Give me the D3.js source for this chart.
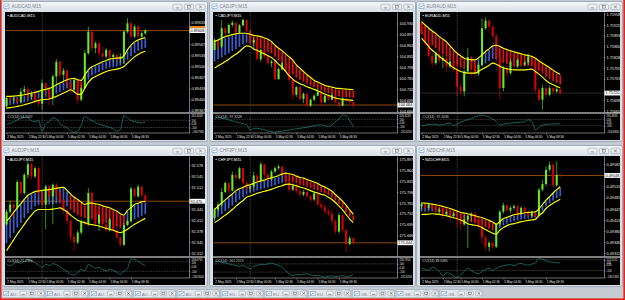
<!DOCTYPE html>
<html>
<head>
<meta charset="utf-8">
<script src="https://cdn.jsdelivr.net/npm/d3@7"></script>
<style>
  body { margin: 0; background: #c5cbd2; }
  svg { display: block; }
  text { font-family: "Liberation Sans", "DejaVu Sans", sans-serif; }
</style>
</head>
<body>
<div id="chart"></div>
<script>
// ---- shared labels ----
const symbols = ["AUDCAD,M15", "CADJPY,M15", "EURAUD,M15", "AUDJPY,M15", "CHFJPY,M15", "NZDCHF,M15"];
const timeLabels = ["2 May 2025", "2 May 22:30", "5 May 00:30", "5 May 02:30", "5 May 04:30", "5 May 06:30", "5 May 08:30"];
const timeIdx = [0, 6, 11, 17, 23, 29, 35];
const sessionBreak = 10; // first bar of Monday 5 May
const minimized = ["AU...", "AU...", "AU...", "AU...", "AU...", "EU...", "EU...", "EU...", "GB...", "GB...", "GB..."];

// ---- AUDCAD ----
const audcadOpen0 = 0.89380;
const audcadClose = [0.89405,0.89400,0.89403,0.89394,0.89424,0.89432,0.89409,0.89418,0.89399,0.89388,0.89450,0.89434,0.89404,0.89470,0.89514,0.89475,0.89488,0.89450,0.89430,0.89459,0.89400,0.89435,0.89540,0.89605,0.89555,0.89570,0.89540,0.89530,0.89550,0.89528,0.89535,0.89524,0.89530,0.89605,0.89630,0.89590,0.89620,0.89590,0.89600,0.89608];
const audcadHigh = [0.89412,0.89410,0.89411,0.89408,0.89435,0.89442,0.89438,0.89426,0.89430,0.89404,0.89460,0.89452,0.89440,0.89476,0.89522,0.89520,0.89495,0.89492,0.89456,0.89466,0.89462,0.89445,0.89550,0.89620,0.89612,0.89576,0.89572,0.89560,0.89555,0.89552,0.89540,0.89537,0.89540,0.89608,0.89645,0.89635,0.89626,0.89624,0.89606,0.89612];
const audcadLow = [0.89370,0.89394,0.89390,0.89384,0.89388,0.89416,0.89400,0.89400,0.89388,0.89378,0.89369,0.89410,0.89382,0.89384,0.89442,0.89464,0.89456,0.89438,0.89418,0.89426,0.89388,0.89394,0.89432,0.89535,0.89544,0.89540,0.89530,0.89522,0.89524,0.89519,0.89514,0.89514,0.89510,0.89508,0.89600,0.89584,0.89585,0.89584,0.89587,0.89596];
const audcadUpper = [0.89410,0.89410,0.89411,0.89412,0.89413,0.89415,0.89417,0.89420,0.89422,0.89425,0.89429,0.89431,0.89434,0.89438,0.89445,0.89450,0.89455,0.89460,0.89463,0.89464,0.89460,0.89458,0.89474,0.89490,0.89499,0.89504,0.89509,0.89514,0.89518,0.89522,0.89524,0.89525,0.89525,0.89532,0.89550,0.89564,0.89574,0.89580,0.89584,0.89587];
const audcadLower = [0.89375,0.89376,0.89378,0.89380,0.89382,0.89385,0.89388,0.89391,0.89395,0.89398,0.89400,0.89401,0.89402,0.89406,0.89410,0.89415,0.89420,0.89425,0.89430,0.89424,0.89416,0.89417,0.89435,0.89452,0.89464,0.89470,0.89475,0.89480,0.89485,0.89488,0.89490,0.89492,0.89495,0.89500,0.89510,0.89520,0.89529,0.89536,0.89542,0.89546];
const audcadBear = [[19, 21]];
const audcadCci = [-25,20,60,110,150,185,170,80,60,100,-200,10,60,170,140,0,-60,-110,-180,-240,-200,-30,200,150,90,40,-10,-40,-70,-100,-140,-200,-160,230,170,90,60,40,30,54.7];
const audcadTicks = [0.89633,0.89600,0.89567,0.89533,0.89500,0.89467,0.89433,0.89400,0.89367];
const audcadRange = [0.89363, 0.89664];

// ---- CADJPY ----
const cadjpyOpen0 = 104.850;
const cadjpyClose = [104.880,104.860,104.915,104.900,104.925,104.932,104.902,104.924,104.940,104.908,104.872,104.880,104.822,104.850,104.830,104.810,104.815,104.762,104.792,104.810,104.786,104.760,104.715,104.738,104.702,104.718,104.682,104.700,104.712,104.724,104.692,104.712,104.700,104.714,104.692,104.682,104.704,104.696,104.692,104.684];
const cadjpyHigh = [104.885,104.882,104.940,104.920,104.930,104.938,104.934,104.928,104.945,104.942,104.912,104.888,104.882,104.854,104.852,104.835,104.820,104.818,104.798,104.814,104.812,104.788,104.762,104.742,104.740,104.722,104.720,104.704,104.716,104.735,104.725,104.716,104.715,104.720,104.716,104.700,104.708,104.706,104.702,104.696];
const cadjpyLow = [104.848,104.850,104.855,104.892,104.898,104.918,104.896,104.900,104.920,104.904,104.865,104.850,104.818,104.814,104.824,104.805,104.798,104.758,104.760,104.788,104.782,104.755,104.700,104.708,104.698,104.690,104.678,104.678,104.696,104.710,104.680,104.690,104.696,104.698,104.688,104.675,104.680,104.692,104.688,104.674];
const cadjpyUpper = [104.875,104.880,104.885,104.890,104.893,104.896,104.898,104.900,104.900,104.900,104.897,104.894,104.892,104.890,104.886,104.882,104.875,104.864,104.855,104.847,104.838,104.829,104.819,104.805,104.795,104.785,104.775,104.767,104.758,104.753,104.748,104.743,104.740,104.738,104.735,104.734,104.733,104.732,104.731,104.730];
const cadjpyLower = [104.795,104.802,104.808,104.815,104.822,104.830,104.837,104.845,104.855,104.862,104.860,104.853,104.848,104.843,104.838,104.832,104.827,104.818,104.807,104.797,104.785,104.772,104.762,104.754,104.748,104.744,104.739,104.735,104.731,104.727,104.722,104.717,104.713,104.709,104.705,104.703,104.701,104.700,104.699,104.698];
const cadjpyBear = [[10, 39]];
const cadjpyCci = [110,160,130,110,80,60,30,10,-20,-40,-190,-150,-140,-160,-175,-210,-230,-240,-225,-215,-195,-185,-170,-155,-140,-125,-110,-90,-70,-55,-50,-70,-90,-50,30,110,210,190,60,-97.3];
const cadjpyTicks = [104.930,104.897,104.864,104.831,104.798,104.765,104.732,104.699,104.666];
const cadjpyRange = [104.663, 104.964];

// ---- EURAUD ----
const euraudOpen0 = 1.75930;
const euraudClose = [1.75900,1.75872,1.75832,1.75810,1.75838,1.75818,1.75825,1.75800,1.75815,1.75790,1.75740,1.75725,1.75785,1.75828,1.75800,1.75778,1.75805,1.75915,1.75938,1.75920,1.75892,1.75825,1.75735,1.75795,1.75780,1.75815,1.75800,1.75820,1.75805,1.75812,1.75830,1.75810,1.75730,1.75700,1.75735,1.75715,1.75735,1.75725,1.75732,1.75720];
const euraudHigh = [1.75935,1.75905,1.75875,1.75840,1.75845,1.75842,1.75835,1.75828,1.75822,1.75820,1.75800,1.75750,1.75790,1.75855,1.75832,1.75810,1.75812,1.75945,1.75948,1.75942,1.75925,1.75900,1.75830,1.75802,1.75805,1.75822,1.75820,1.75825,1.75822,1.75818,1.75840,1.75834,1.75815,1.75735,1.75745,1.75738,1.75742,1.75738,1.75738,1.75735];
const euraudLow = [1.75895,1.75865,1.75825,1.75800,1.75805,1.75810,1.75795,1.75785,1.75795,1.75782,1.75710,1.75715,1.75710,1.75778,1.75770,1.75768,1.75772,1.75800,1.75910,1.75908,1.75885,1.75810,1.75700,1.75725,1.75768,1.75775,1.75790,1.75795,1.75800,1.75800,1.75805,1.75804,1.75720,1.75695,1.75670,1.75708,1.75710,1.75718,1.75720,1.75715];
const euraudUpper = [1.75935,1.75925,1.75916,1.75907,1.75899,1.75890,1.75882,1.75874,1.75862,1.75850,1.75840,1.75832,1.75825,1.75822,1.75820,1.75820,1.75826,1.75835,1.75845,1.75853,1.75862,1.75864,1.75860,1.75855,1.75851,1.75847,1.75844,1.75841,1.75838,1.75835,1.75833,1.75830,1.75825,1.75817,1.75810,1.75803,1.75796,1.75789,1.75782,1.75776];
const euraudLower = [1.75885,1.75873,1.75860,1.75849,1.75840,1.75830,1.75822,1.75814,1.75805,1.75796,1.75790,1.75785,1.75782,1.75780,1.75780,1.75780,1.75785,1.75792,1.75797,1.75804,1.75810,1.75807,1.75801,1.75796,1.75793,1.75791,1.75790,1.75790,1.75790,1.75790,1.75791,1.75792,1.75785,1.75777,1.75768,1.75758,1.75750,1.75745,1.75740,1.75736];
const euraudBear = [[0, 15], [22, 39]];
const euraudCci = [-96,-80,-60,-48,-60,-75,-60,-30,-20,-90,-40,20,60,90,130,180,215,240,210,180,110,40,-77,-50,-25,-15,-5,5,15,30,90,50,-235,-150,-80,-60,-48,-42,-40,-37.2];
const euraudTicks = [1.75958,1.75925,1.75893,1.75860,1.75828,1.75795,1.75763,1.75730,1.75698,1.75665];
const euraudRange = [1.75663, 1.75964];

// ---- AUDJPY ----
const audjpyOpen0 = 92.400;
const audjpyClose = [92.438,92.460,92.450,92.528,92.495,92.550,92.582,92.545,92.570,92.495,92.460,92.515,92.485,92.520,92.495,92.472,92.442,92.410,92.362,92.345,92.375,92.408,92.400,92.495,92.445,92.402,92.428,92.400,92.382,92.415,92.382,92.360,92.338,92.398,92.410,92.508,92.485,92.514,92.488,92.470];
const audjpyHigh = [92.445,92.472,92.465,92.535,92.532,92.555,92.590,92.585,92.575,92.575,92.500,92.520,92.518,92.524,92.525,92.502,92.478,92.445,92.415,92.370,92.382,92.415,92.412,92.510,92.500,92.450,92.432,92.430,92.405,92.420,92.418,92.390,92.365,92.404,92.415,92.515,92.512,92.520,92.516,92.492];
const audjpyLow = [92.395,92.432,92.425,92.445,92.485,92.490,92.540,92.535,92.540,92.485,92.450,92.385,92.475,92.400,92.485,92.460,92.432,92.400,92.348,92.320,92.340,92.370,92.395,92.395,92.438,92.395,92.380,92.395,92.375,92.378,92.378,92.355,92.332,92.334,92.394,92.405,92.478,92.480,92.482,92.464];
const audjpyUpper = [92.410,92.422,92.436,92.450,92.462,92.476,92.488,92.494,92.499,92.501,92.503,92.504,92.505,92.507,92.509,92.511,92.512,92.503,92.492,92.482,92.475,92.467,92.460,92.464,92.464,92.462,92.460,92.456,92.453,92.450,92.445,92.440,92.432,92.428,92.442,92.450,92.460,92.464,92.468,92.470];
const audjpyLower = [92.320,92.337,92.353,92.370,92.385,92.400,92.415,92.428,92.440,92.445,92.445,92.445,92.445,92.446,92.448,92.450,92.445,92.438,92.428,92.420,92.412,92.408,92.405,92.401,92.399,92.397,92.395,92.391,92.388,92.385,92.382,92.378,92.375,92.378,92.385,92.393,92.400,92.406,92.412,92.418];
const audjpyBear = [[18, 33]];
const audjpyCci = [40,20,60,90,70,110,150,120,80,30,-20,50,20,60,40,0,-60,-100,-160,-180,-120,-60,-90,40,10,-40,-20,-60,-90,-60,-80,-120,-160,-100,-40,160,150,110,60,21.3];
const audjpyTicks = [92.578,92.545,92.512,92.478,92.445,92.412,92.378,92.345,92.312];
const audjpyRange = [92.304, 92.607];

// ---- CHFJPY ----
const chfjpyOpen0 = 175.720;
const chfjpyClose = [175.745,175.760,175.798,175.825,175.802,175.850,175.840,175.870,175.825,175.808,175.815,175.848,175.832,175.882,175.850,175.838,175.860,175.870,175.875,175.850,175.828,175.805,175.818,175.800,175.790,175.798,175.785,175.775,175.794,175.760,175.752,175.738,175.732,175.710,175.678,175.728,175.682,175.640,175.658,175.644];
const chfjpyHigh = [175.750,175.768,175.810,175.830,175.828,175.860,175.855,175.875,175.872,175.832,175.820,175.860,175.852,175.890,175.885,175.855,175.865,175.876,175.882,175.878,175.855,175.832,175.824,175.822,175.808,175.804,175.802,175.790,175.800,175.796,175.770,175.760,175.748,175.745,175.715,175.735,175.732,175.685,175.665,175.660];
const chfjpyLow = [175.710,175.738,175.754,175.795,175.795,175.800,175.832,175.835,175.820,175.800,175.798,175.810,175.825,175.828,175.838,175.830,175.832,175.855,175.865,175.845,175.822,175.798,175.802,175.794,175.784,175.785,175.778,175.768,175.770,175.754,175.745,175.732,175.725,175.698,175.670,175.672,175.675,175.615,175.636,175.638];
const chfjpyUpper = [175.745,175.755,175.765,175.774,175.783,175.792,175.802,175.808,175.812,175.817,175.820,175.824,175.828,175.831,175.834,175.838,175.841,175.844,175.848,175.852,175.855,175.853,175.851,175.846,175.842,175.840,175.836,175.832,175.828,175.824,175.817,175.813,175.807,175.800,175.790,175.780,175.770,175.758,175.744,175.730];
const chfjpyLower = [175.705,175.712,175.720,175.728,175.736,175.745,175.755,175.764,175.772,175.782,175.786,175.790,175.794,175.797,175.800,175.803,175.806,175.810,175.814,175.817,175.821,175.822,175.820,175.817,175.813,175.810,175.806,175.802,175.798,175.795,175.791,175.788,175.782,175.775,175.766,175.755,175.744,175.730,175.716,175.705];
const chfjpyBear = [[21, 39]];
const chfjpyCci = [150,160,140,120,100,80,60,40,70,20,-20,40,60,90,80,100,120,90,60,20,-60,-150,-180,-160,-170,-150,-140,-170,-190,-180,-200,-220,-200,-190,-210,-200,-180,-220,-190,-161.3];
const chfjpyTicks = [175.897,175.864,175.831,175.798,175.765,175.732,175.699,175.666,175.633];
const chfjpyRange = [175.604, 175.907];

// ---- NZDCHF ----
const nzdchfOpen0 = 0.49455;
const nzdchfClose = [0.49462,0.49450,0.49460,0.49448,0.49438,0.49445,0.49430,0.49438,0.49425,0.49432,0.49420,0.49400,0.49415,0.49425,0.49432,0.49415,0.49395,0.49360,0.49332,0.49344,0.49332,0.49400,0.49438,0.49458,0.49442,0.49450,0.49455,0.49430,0.49450,0.49438,0.49425,0.49437,0.49425,0.49505,0.49522,0.49565,0.49580,0.49518,0.49550,0.49548];
const nzdchfHigh = [0.49468,0.49465,0.49466,0.49464,0.49455,0.49450,0.49448,0.49442,0.49440,0.49438,0.49435,0.49425,0.49430,0.49430,0.49436,0.49435,0.49420,0.49400,0.49365,0.49350,0.49348,0.49405,0.49444,0.49466,0.49460,0.49455,0.49460,0.49458,0.49454,0.49454,0.49445,0.49442,0.49440,0.49510,0.49535,0.49575,0.49590,0.49588,0.49590,0.49555];
const nzdchfLow = [0.49445,0.49438,0.49444,0.49442,0.49430,0.49432,0.49415,0.49422,0.49410,0.49420,0.49390,0.49382,0.49395,0.49328,0.49410,0.49408,0.49388,0.49340,0.49320,0.49318,0.49326,0.49328,0.49395,0.49432,0.49436,0.49434,0.49444,0.49424,0.49428,0.49432,0.49420,0.49422,0.49418,0.49420,0.49500,0.49515,0.49560,0.49512,0.49514,0.49542];
const nzdchfUpper = [0.49465,0.49464,0.49463,0.49461,0.49459,0.49457,0.49454,0.49451,0.49448,0.49444,0.49440,0.49436,0.49434,0.49432,0.49429,0.49426,0.49423,0.49420,0.49416,0.49412,0.49407,0.49400,0.49409,0.49417,0.49421,0.49425,0.49429,0.49431,0.49433,0.49435,0.49436,0.49437,0.49438,0.49447,0.49460,0.49473,0.49484,0.49495,0.49505,0.49514];
const nzdchfLower = [0.49430,0.49430,0.49431,0.49432,0.49431,0.49430,0.49428,0.49426,0.49423,0.49420,0.49417,0.49413,0.49408,0.49402,0.49399,0.49397,0.49395,0.49390,0.49384,0.49378,0.49373,0.49370,0.49382,0.49390,0.49396,0.49400,0.49402,0.49405,0.49408,0.49410,0.49412,0.49413,0.49415,0.49427,0.49435,0.49448,0.49457,0.49464,0.49470,0.49476];
const nzdchfBear = [[4, 21]];
const nzdchfCci = [-60,-80,-100,-40,-60,-120,-200,-140,-160,-200,-230,-180,-120,-60,-100,-140,-160,-120,-80,-60,-100,-60,-30,-10,0,10,-10,20,30,10,0,20,40,120,110,80,60,50,45,38.5];
const nzdchfTicks = [0.49582,0.49548,0.49515,0.49481,0.49447,0.49413,0.49380,0.49346,0.49312];
const nzdchfRange = [0.49304, 0.49607];

// CCI window labels / ranges
const cciLabels = ["CCI(14) 54.7047", "CCI(14) -97.3228", "CCI(14) -37.2036", "CCI(14) 21.2996", "CCI(14) -161.2519", "CCI(14) 38.5080"];
const cciRanges = [[-240.7965, 261.3208], [-252.0210, 226.3233], [-316.8830, 261.4633], [-230.3040, 168.0795], [-231.6294, 230.7810], [-230.7465, 122.2122]];

const panels = [
  { symbol: symbols[0], open0: audcadOpen0, close: audcadClose, high: audcadHigh, low: audcadLow, upper: audcadUpper, lower: audcadLower, bear: audcadBear, cci: audcadCci, ticks: audcadTicks, range: audcadRange, digits: 5, priceLine: "#c8690f", askTag: true },
  { symbol: symbols[1], open0: cadjpyOpen0, close: cadjpyClose, high: cadjpyHigh, low: cadjpyLow, upper: cadjpyUpper, lower: cadjpyLower, bear: cadjpyBear, cci: cadjpyCci, ticks: cadjpyTicks, range: cadjpyRange, digits: 3, priceLine: "#c8690f" },
  { symbol: symbols[2], open0: euraudOpen0, close: euraudClose, high: euraudHigh, low: euraudLow, upper: euraudUpper, lower: euraudLower, bear: euraudBear, cci: euraudCci, ticks: euraudTicks, range: euraudRange, digits: 5, priceLine: "#3c3c3c" },
  { symbol: symbols[3], open0: audjpyOpen0, close: audjpyClose, high: audjpyHigh, low: audjpyLow, upper: audjpyUpper, lower: audjpyLower, bear: audjpyBear, cci: audjpyCci, ticks: audjpyTicks, range: audjpyRange, digits: 3, priceLine: "#c8690f" },
  { symbol: symbols[4], open0: chfjpyOpen0, close: chfjpyClose, high: chfjpyHigh, low: chfjpyLow, upper: chfjpyUpper, lower: chfjpyLower, bear: chfjpyBear, cci: chfjpyCci, ticks: chfjpyTicks, range: chfjpyRange, digits: 3, priceLine: "#c8690f" },
  { symbol: symbols[5], open0: nzdchfOpen0, close: nzdchfClose, high: nzdchfHigh, low: nzdchfLow, upper: nzdchfUpper, lower: nzdchfLower, bear: nzdchfBear, cci: nzdchfCci, ticks: nzdchfTicks, range: nzdchfRange, digits: 5, priceLine: "#c8690f" }
];
panels.forEach((p, k) => { p.cciLabel = cciLabels[k]; p.cciRange = cciRanges[k]; });

const upColor = "#66ee22", downColor = "#dd0000";
const bullRibbon = "#3f62d8", bearRibbon = "#f01010";

const W = 625, H = 300;
const svg = d3.select("#chart").append("svg").attr("width", W).attr("height", H);

const defs = svg.append("defs");
const tg = defs.append("linearGradient").attr("id", "titleGrad")
  .attr("x1", 0).attr("y1", 0).attr("x2", 0).attr("y2", 1);
tg.append("stop").attr("offset", "0%").attr("stop-color", "#f4f6f9");
tg.append("stop").attr("offset", "100%").attr("stop-color", "#dbe1e8");

svg.append("rect").attr("width", W).attr("height", H).attr("fill", "#c5cbd2");

function drawIcon(g, x, y) {
  g.append("rect").attr("x", x).attr("y", y).attr("width", 5).attr("height", 4.4)
    .attr("fill", "#ffffff").attr("stroke", "#5a86c4").attr("stroke-width", 0.5);
  g.append("path").attr("d", `M${x + 0.8},${y + 3.6}L${x + 2},${y + 2}L${x + 3},${y + 2.8}L${x + 4.3},${y + 1}`)
    .attr("fill", "none").attr("stroke", "#2f64b0").attr("stroke-width", 0.5);
}

function drawButtons(g, x, y, w, h, gap) {
  [0, 1, 2].forEach(k => {
    const bx = x + k * gap;
    g.append("rect").attr("x", bx).attr("y", y).attr("width", w).attr("height", h).attr("rx", 1)
      .attr("fill", "#eceff3").attr("stroke", "#8f99a5").attr("stroke-width", 0.5);
    const cx = bx + w / 2, cy = y + h / 2;
    if (k === 0) {
      g.append("line").attr("x1", cx - 1.6).attr("x2", cx + 1.6).attr("y1", cy + 1).attr("y2", cy + 1)
        .attr("stroke", "#555").attr("stroke-width", 0.6);
    } else if (k === 1) {
      g.append("rect").attr("x", cx - 1.5).attr("y", cy - 1.2).attr("width", 3).attr("height", 2.4)
        .attr("fill", "none").attr("stroke", "#555").attr("stroke-width", 0.5);
    } else {
      g.append("path").attr("d", `M${cx - 1.3},${cy - 1.2}L${cx + 1.3},${cy + 1.2}M${cx + 1.3},${cy - 1.2}L${cx - 1.3},${cy + 1.2}`)
        .attr("stroke", "#555").attr("stroke-width", 0.6);
    }
  });
}

function styleAxis(ag, fs) {
  ag.attr("font-size", fs).attr("font-family", '"Liberation Sans", sans-serif');
  ag.select(".domain").attr("stroke", "#b8b8b8").attr("stroke-width", 0.6);
  ag.selectAll(".tick line").attr("stroke", "#b8b8b8").attr("stroke-width", 0.5);
  ag.selectAll(".tick text").attr("fill", "#e2e2e2");
}

function drawPanel(p, x0, y0, wh) {
  const g = svg.append("g").attr("transform", `translate(${x0},${y0})`);

  // window frame + title bar
  g.append("rect").attr("x", 0.5).attr("y", 0.5).attr("width", 206).attr("height", wh - 1).attr("rx", 2)
    .attr("fill", "#d8dee5").attr("stroke", "#96a0ac").attr("stroke-width", 0.8);
  g.append("rect").attr("x", 1).attr("y", 1).attr("width", 205).attr("height", 9).attr("rx", 1.5)
    .attr("fill", "url(#titleGrad)");
  drawIcon(g, 3, 3);
  g.append("text").attr("x", 10.5).attr("y", 7.4).attr("font-size", 4.6).attr("fill", "#7d858f").text(p.symbol);
  drawButtons(g, 172, 3.2, 9, 5.4, 11.5);

  // chart area
  const bx = 4, by = 11, bw = 200, bh = wh - 13;
  g.append("rect").attr("x", bx).attr("y", by).attr("width", bw).attr("height", bh).attr("fill", "#000");

  const plotL = bx + 0.5, plotR = bx + 184;
  const mainT = by, mainB = by + 100;
  const cciT = mainB + 2, cciB = by + bh - 7;

  const x = d3.scaleLinear().domain([-0.3, 51.3]).range([plotL, plotR]);
  const y = d3.scaleLinear().domain(p.range).range([mainB, mainT]);
  const yc = d3.scaleLinear().domain(p.cciRange).range([cciB - 0.5, cciT + 0.5]);
  const fmt = d3.format(`.${p.digits}f`);
  const idx = d3.range(p.close.length);
  const open = i => i === 0 ? p.open0 : p.close[i - 1];
  const isBear = i => p.bear.some(([a, b]) => i >= a && i <= b);
  const last = p.close[p.close.length - 1];

  // separator between main window and CCI
  g.append("rect").attr("x", bx).attr("y", mainB + 0.2).attr("width", bw).attr("height", 1.6).attr("fill", "#9c9c9c");

  // current price line
  g.append("line").attr("x1", plotL).attr("x2", plotR).attr("y1", y(last)).attr("y2", y(last))
    .attr("stroke", p.priceLine).attr("stroke-width", 0.7);

  // trend ribbon (thin stripes between the envelope lines)
  g.append("g").selectAll("rect").data(idx).join("rect")
    .attr("x", i => x(i) - 0.85).attr("width", 1.7)
    .attr("y", i => y(p.upper[i]) + 1)
    .attr("height", i => Math.max(0.5, 0.75 * (y(p.lower[i]) - y(p.upper[i])) - 1))
    .attr("fill", i => isBear(i) ? bearRibbon : bullRibbon)
    .attr("opacity", 0.95);

  // candles
  const cg = g.append("g").selectAll("g").data(idx).join("g");
  const col = i => p.close[i] >= open(i) ? upColor : downColor;
  cg.append("line")
    .attr("x1", i => x(i)).attr("x2", i => x(i))
    .attr("y1", i => y(p.high[i])).attr("y2", i => y(p.low[i]))
    .attr("stroke", col).attr("stroke-width", 0.6);
  cg.append("rect")
    .attr("x", i => x(i) - 1).attr("width", 2)
    .attr("y", i => y(Math.max(open(i), p.close[i])))
    .attr("height", i => Math.max(0.6, Math.abs(y(open(i)) - y(p.close[i]))))
    .attr("fill", col);

  // envelope lines
  const env = d3.line().x((d, i) => x(i)).y(d => y(d)).curve(d3.curveMonotoneX);
  [p.upper, p.lower].forEach(arr => {
    g.append("path").attr("d", env(arr)).attr("fill", "none").attr("stroke", "#ffff00").attr("stroke-width", 1.15);
  });

  // period separator
  g.append("line").attr("x1", x(sessionBreak)).attr("x2", x(sessionBreak))
    .attr("y1", mainT).attr("y2", cciB)
    .attr("stroke", "#8c8c8c").attr("stroke-width", 0.5).attr("stroke-dasharray", "0.8,0.8");

  // symbol label
  g.append("text").attr("x", plotL + 2).attr("y", mainT + 4.8).attr("font-size", 3.9).attr("fill", "#ffffff")
    .text("\u25aa " + p.symbol);

  // price axis (labels hidden under the current-price box are left out, as the box covers them)
  const shown = p.ticks.filter(t => Math.abs(y(t) - y(last)) > 4.6);
  const pa = g.append("g").attr("transform", `translate(${plotR},0)`)
    .call(d3.axisRight(y).tickValues(shown).tickFormat(fmt).tickSize(1.5).tickSizeOuter(0).tickPadding(1));
  styleAxis(pa, 3.8);

  if (p.askTag) {
    g.append("rect").attr("x", plotR + 0.5).attr("y", y(last) - 4.6).attr("width", 15.5).attr("height", 2.3)
      .attr("fill", "#e68a1c");
  }
  g.append("rect").attr("x", plotR + 0.5).attr("y", y(last) - 2.4).attr("width", 15.5).attr("height", 4.8)
    .attr("fill", "#ffffff");
  g.append("text").attr("x", plotR + 1.6).attr("y", y(last) + 1.4).attr("font-size", 3.8).attr("fill", "#000")
    .text(fmt(last));

  // CCI window
  [100, -100].forEach(lv => {
    g.append("line").attr("x1", plotL).attr("x2", plotR).attr("y1", yc(lv)).attr("y2", yc(lv))
      .attr("stroke", "#8a8a8a").attr("stroke-width", 0.5).attr("stroke-dasharray", "0.8,0.8");
  });
  g.append("path").datum(p.cci)
    .attr("d", d3.line().x((d, i) => x(i)).y(d => yc(d)).curve(d3.curveMonotoneX))
    .attr("fill", "none").attr("stroke", "#23877f").attr("stroke-width", 0.7);
  g.append("text").attr("x", plotL + 2).attr("y", cciT + 4).attr("font-size", 3.4).attr("fill", "#cfcfcf")
    .text(p.cciLabel);

  const cciTicks = [p.cciRange[1], 100, 0, -100, p.cciRange[0]];
  const cciFmt = d => d === 100 ? "100" : d === -100 ? "-100" : d === 0 ? "0.00" : d3.format(".4f")(d);
  const ca = g.append("g").attr("transform", `translate(${plotR},0)`)
    .call(d3.axisRight(yc).tickValues(cciTicks).tickFormat(cciFmt)
      .tickSize(1.5).tickSizeOuter(0).tickPadding(1));
  styleAxis(ca, 2.6);
  // spread the five labels so none collide inside the short sub-window
  const gap = 2.75, topC = cciT + 1.6, botC = cciB - 1.4;
  const centers = cciTicks.map(d => Math.min(botC, Math.max(topC, yc(d))));
  for (let k = 1; k < centers.length; k++) centers[k] = Math.max(centers[k], centers[k - 1] + gap);
  for (let k = centers.length - 1; k >= 0; k--) {
    const lim = k === centers.length - 1 ? botC : centers[k + 1] - gap;
    centers[k] = Math.min(centers[k], lim);
  }
  ca.selectAll(".tick text").attr("dy", "0.32em").attr("y", (d, k) => centers[cciTicks.indexOf(d)] - yc(d));

  // time axis
  const ta = g.append("g").attr("transform", `translate(0,${cciB})`)
    .call(d3.axisBottom(x).tickValues(timeIdx).tickFormat((d, k) => timeLabels[k])
      .tickSize(1.5).tickSizeOuter(0).tickPadding(1.2));
  styleAxis(ta, 3.1);
  ta.select(".domain").attr("d", `M${plotL},0H${plotR}`);
  ta.selectAll(".tick text").attr("text-anchor", "start").attr("x", 0.3);
}

const colX = [1, 209, 416];
const rowY = [1, 145];
const rowH = [141, 142];
panels.forEach((p, k) => drawPanel(p, colX[k % 3], rowY[Math.floor(k / 3)], rowH[Math.floor(k / 3)]));

// minimized windows bar
minimized.forEach((t, k) => {
  const tx = 2 + k * 43.8;
  const g = svg.append("g");
  g.append("rect").attr("x", tx).attr("y", 289.5).attr("width", 41.8).attr("height", 8.3).attr("rx", 1.2)
    .attr("fill", "#e4e8ed").attr("stroke", "#97a1ad").attr("stroke-width", 0.6);
  drawIcon(g, tx + 1.8, 291.4);
  g.append("text").attr("x", tx + 8.3).attr("y", 295.6).attr("font-size", 4.2).attr("fill", "#7d858f").text(t);
  drawButtons(g, tx + 18, 291, 6.5, 4.8, 8.8);
});

// outer red frame
svg.append("rect").attr("x", 0).attr("y", 0).attr("width", 1.4).attr("height", H).attr("fill", "#e3241c");
svg.append("rect").attr("x", W - 1.6).attr("y", 0).attr("width", 1.6).attr("height", H).attr("fill", "#e3241c");
svg.append("rect").attr("x", 0).attr("y", H - 1.6).attr("width", W).attr("height", 1.6).attr("fill", "#e3241c");
</script>
</body>
</html>
